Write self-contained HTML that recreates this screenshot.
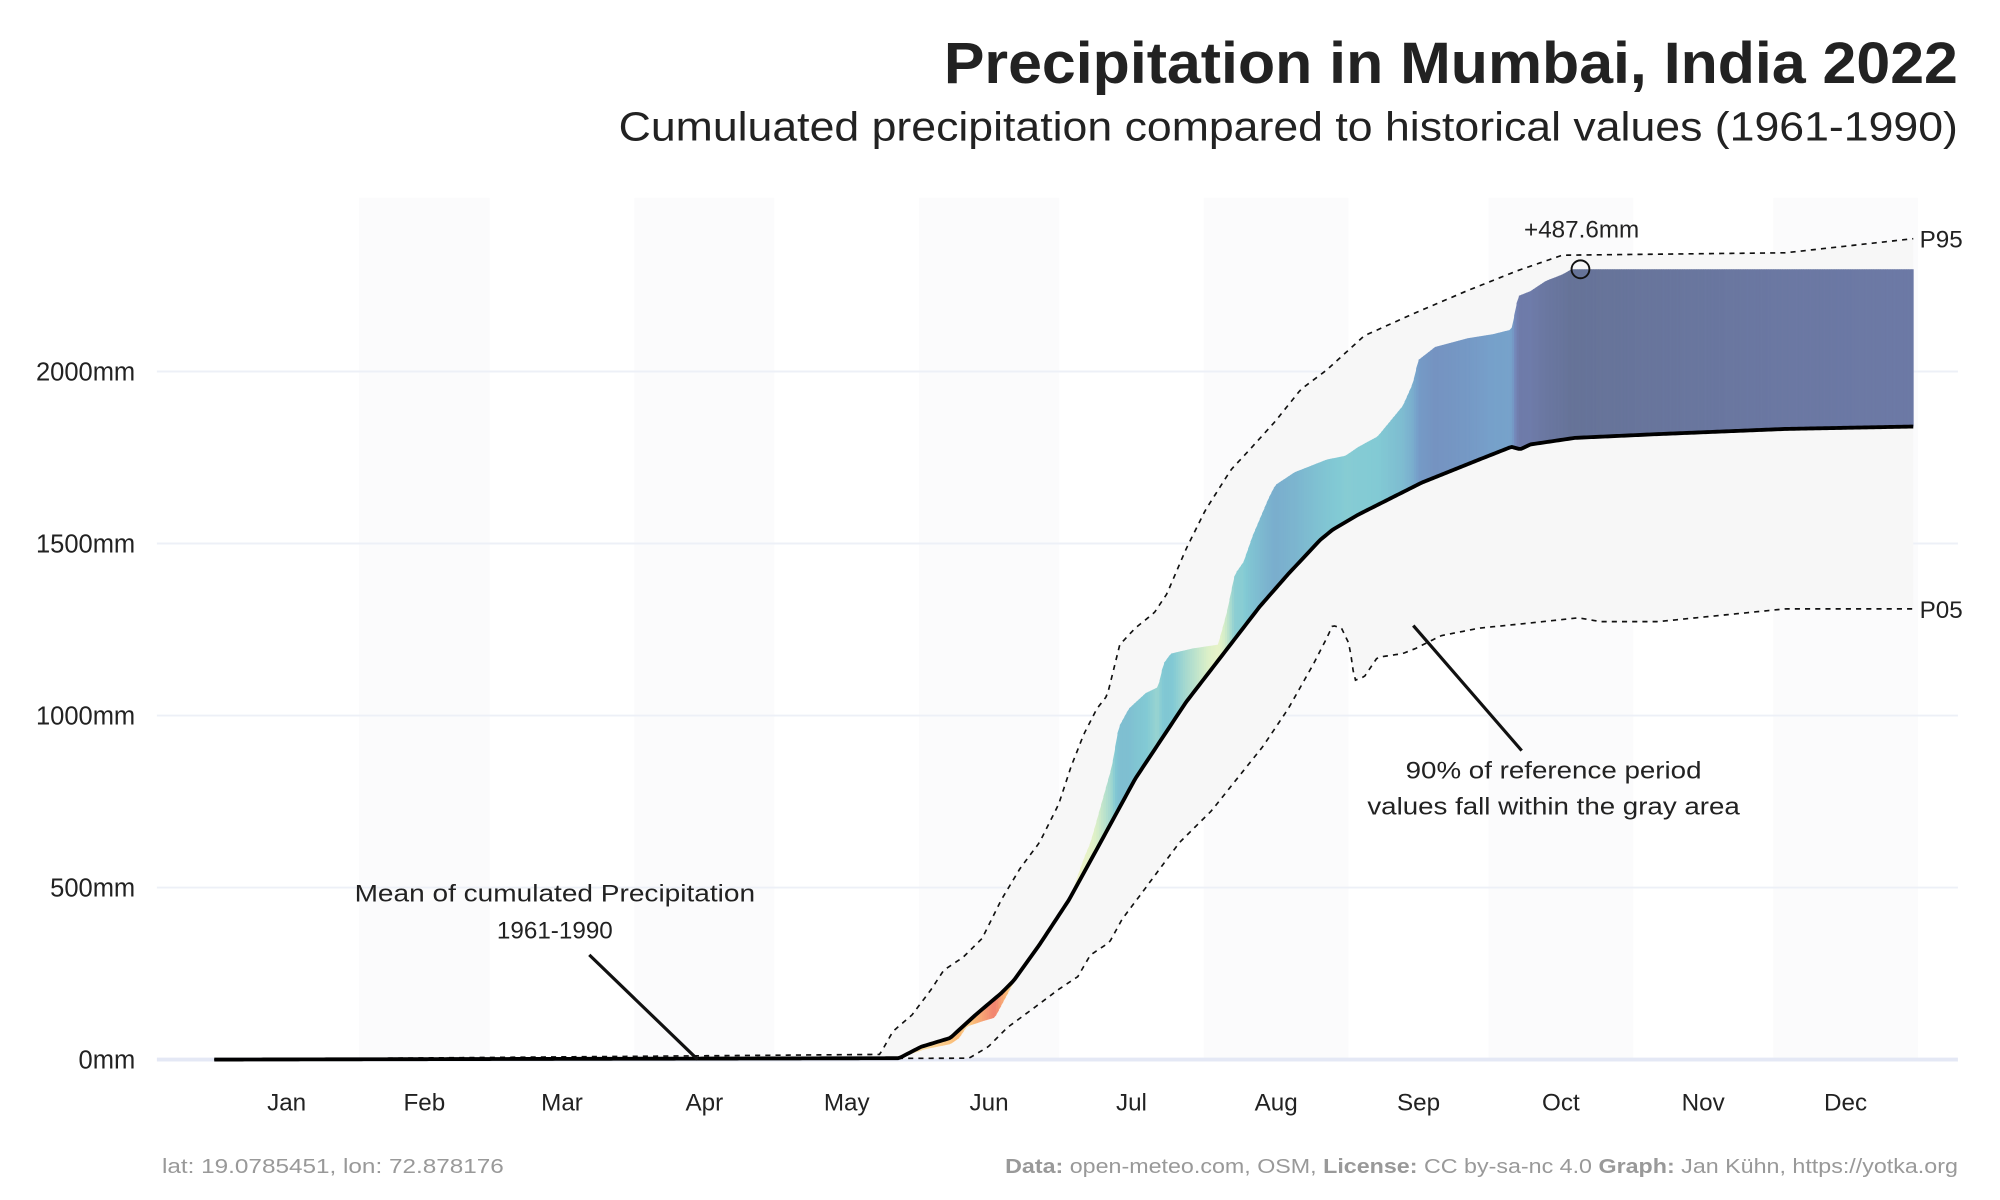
<!DOCTYPE html>
<html><head><meta charset="utf-8">
<style>
html,body{margin:0;padding:0;background:#fff;}
svg{display:block;font-family:"Liberation Sans",sans-serif;}
</style></head>
<body>
<svg id="chart" width="2000" height="1200" viewBox="0 0 1568 940" preserveAspectRatio="none" xmlns="http://www.w3.org/2000/svg">
<text x="1535" y="65" text-anchor="end" font-size="46" font-weight="bold" fill="#222" textLength="795" lengthAdjust="spacingAndGlyphs">Precipitation in Mumbai, India 2022</text>
<text x="1535" y="110" text-anchor="end" font-size="32" fill="#222" textLength="1050" lengthAdjust="spacingAndGlyphs">Cumuluated precipitation compared to historical values (1961-1990)</text>
<g id="bands"></g>
<g id="grid"></g>
<g id="area"></g>
<g id="fills"></g>
<g id="lines"></g>
<g id="axes"></g>
<g id="annot">
<text x="1240" y="186" text-anchor="middle" font-size="19" fill="#222">+487.6mm</text>
<text x="1505" y="194" font-size="19" fill="#222">P95</text>
<text x="1505" y="484" font-size="19" fill="#222">P05</text>
<text font-size="19" fill="#222"><tspan x="435" y="706" text-anchor="middle" textLength="314" lengthAdjust="spacingAndGlyphs">Mean of cumulated Precipitation</tspan><tspan x="435" y="735" text-anchor="middle">1961-1990</tspan></text>
<line x1="462" y1="748" x2="547" y2="830" stroke="#111" stroke-width="2.5"/>
<text font-size="19" fill="#222"><tspan x="1218" y="610" text-anchor="middle" textLength="232" lengthAdjust="spacingAndGlyphs">90% of reference period</tspan><tspan x="1218" y="638" text-anchor="middle" textLength="292" lengthAdjust="spacingAndGlyphs">values fall within the gray area</tspan></text>
<line x1="1108" y1="490" x2="1193" y2="588" stroke="#111" stroke-width="2.5"/>
</g>
<text x="127" y="919" font-size="16" fill="#999" textLength="268" lengthAdjust="spacingAndGlyphs">lat: 19.0785451, lon: 72.878176</text>
<text x="1535" y="919" text-anchor="end" font-size="16" fill="#999" textLength="747" lengthAdjust="spacingAndGlyphs"><tspan font-weight="bold">Data:</tspan> open-meteo.com, OSM, <tspan font-weight="bold">License:</tspan> CC by-sa-nc 4.0  <tspan font-weight="bold">Graph:</tspan> Jan Kühn, https://yotka.org</text>
</svg>
<script>
const months=["Jan","Feb","Mar","Apr","May","Jun","Jul","Aug","Sep","Oct","Nov","Dec"];
const monthStart=[1,32,60,91,121,152,182,213,244,274,305,335,366];
const yTicks=[0,500,1000,1500,2000];
const meanDoy=[1,147.7,152.4,158.7,164.1,169.6,172.3,177.8,184.1,190.1,198.3,209.2,225,231,237.9,240.6,246.1,259.7,272,278.9,280.8,283,292.5,310.3,337.6,365];
const meanVal=[0,4,37,63,130,193,230,334,464,612,816,1039,1317,1410,1510,1540,1584,1677,1744,1781,1774,1788,1807,1818,1833,1840];
const p95Doy=[1,143.6,146.4,150.5,154.6,157.3,161.4,165.5,169.6,173.7,177.8,181.9,184.6,187.3,190.1,192.3,195,198.3,202.4,205.1,209.2,213.3,218.8,222.9,228.3,233.8,239.3,247.4,258.4,269.3,280.2,289.8,310.3,337.6,365];
const p95Val=[0,15,82,130,204,260,297,352,464,557,631,742,853,946,1020,1058,1206,1254,1299,1354,1484,1596,1714,1774,1855,1948,2004,2104,2171,2234,2293,2338,2341,2345,2386];
const p05Doy=[1,162.7,166.8,170.9,176.4,181.9,186,188.7,192.8,195.5,199.6,203.7,207.8,214.7,220.1,225.6,231.1,236.5,239.3,240.6,242.5,244.2,245.3,247.4,250.2,255.6,258.4,263.8,272,283,293.3,298,310.3,337.6,365];
const p05Val=[0,4,37,93,148,204,241,304,341,408,482,557,631,724,816,909,1020,1150,1224,1262,1254,1206,1102,1113,1169,1180,1195,1232,1254,1269,1284,1273,1273,1310,1310];
const actDoy=[1,147.7,153.2,158.7,160.6,162.2,165.5,168.2,170.4,173.7,179.1,184.6,187.3,188.7,191.4,193.3,194.7,196.9,200.5,203.2,204.3,205.9,210.6,216,217.9,219.6,221.5,223.4,226.9,228.3,232.4,239.3,243.3,246.1,250.2,255.6,257.8,258.9,262.5,269.3,274.8,278.9,280.3,283,286.2,289.8,291.7,365];
const actVal=[0,4,30,45,63,96,111,122,178,260,371,482,586,631,761,853,965,1020,1065,1083,1150,1180,1195,1206,1299,1410,1447,1521,1633,1670,1707,1744,1755,1781,1811,1900,1967,2033,2071,2096,2108,2122,2219,2234,2263,2282,2297,2297];
const X0=168,X1=1500,Y0=830,K=0.2695;
function x(d){return X0+(d-1)/364*(X1-X0);}
function y(v){return Y0-v*K;}
function interp(ds,vs,d){if(d<=ds[0])return vs[0];for(let i=1;i<ds.length;i++){if(d<=ds[i]){const t=(d-ds[i-1])/(ds[i]-ds[i-1]);return vs[i-1]+t*(vs[i]-vs[i-1]);}}return vs[vs.length-1];}
const NS="http://www.w3.org/2000/svg";
function mk(t,a,p){const e=document.createElementNS(NS,t);for(const k in a)e.setAttribute(k,a[k]);p.appendChild(e);return e;}
const bands=document.getElementById('bands'),grid=document.getElementById('grid'),area=document.getElementById('area'),fills=document.getElementById('fills'),lines=document.getElementById('lines'),axes=document.getElementById('axes');
for(let m=0;m<12;m++){
  if(m%2==1){const r=mk('rect',{x:x(monthStart[m]),y:155,width:x(monthStart[m+1])-x(monthStart[m]),height:675,fill:'#fbfbfc'},bands);
  
  }
  const t=mk('text',{x:x((monthStart[m]+monthStart[m+1])/2),y:870,'text-anchor':'middle','font-size':19,fill:'#222'},axes);
  
  
  t.textContent=months[m];
}
yTicks.forEach(v=>{
  const l=mk('line',{x1:123,x2:1535,y1:y(v),y2:y(v),stroke:v==0?'#e4e8f5':'#edf0f7','stroke-width':v==0?3:1.5},grid);
  
  
  const t=mk('text',{x:106,y:y(v)+7,'text-anchor':'end','font-size':20,fill:'#222'},axes);
  
  
  t.textContent=v+'mm';
});
let pts=[];
for(let d=1;d<=365;d++)pts.push(x(d)+','+y(interp(p95Doy,p95Val,d)));
for(let d=365;d>=1;d--)pts.push(x(d)+','+y(interp(p05Doy,p05Val,d)));
const ga=mk('polygon',{points:pts.join(' '),fill:'#f7f7f7'},area);


const cStops=[[-150,[200,70,100]],[-60,[240,120,110]],[-20,[250,190,120]],[0,[248,245,200]],[80,[220,240,200]],[200,[130,202,212]],[350,[118,160,202]],[420,[115,128,180]],[490,[102,115,152]]];
function col(d){if(d<=cStops[0][0])return cStops[0][1];for(let i=1;i<cStops.length;i++){if(d<=cStops[i][0]){const t=(d-cStops[i-1][0])/(cStops[i][0]-cStops[i-1][0]);return cStops[i-1][1].map((c,j)=>Math.round(c+t*(cStops[i][1][j]-c)));}}return cStops[cStops.length-1][1];}
const STEP=0.5;
for(let d=1;d<365;d+=STEP){
  const a0=interp(actDoy,actVal,d),a1=interp(actDoy,actVal,d+STEP),m0=interp(meanDoy,meanVal,d),m1=interp(meanDoy,meanVal,d+STEP);
  const c=col(((a0-m0)+(a1-m1))/2);
  const p=mk('polygon',{points:x(d)+','+y(a0)+' '+(x(d+STEP)+0.3)+','+y(a1)+' '+(x(d+STEP)+0.3)+','+y(m1)+' '+x(d)+','+y(m0),fill:'rgb('+c.join(',')+')'},fills);
  
  
}
function path(ds,vs){let s='';for(let d=1;d<=365;d+=0.5)s+=(d==1?'M':'L')+x(d).toFixed(2)+','+y(interp(ds,vs,d)).toFixed(2);return s;}
const p95=mk('path',{d:path(p95Doy,p95Val),fill:'none',stroke:'#111','stroke-width':1.3,'stroke-dasharray':'4,4'},lines);


const p05=mk('path',{d:path(p05Doy,p05Val),fill:'none',stroke:'#111','stroke-width':1.3,'stroke-dasharray':'4,4'},lines);


const mean=mk('path',{d:path(meanDoy,meanVal),fill:'none',stroke:'#000','stroke-width':3,'stroke-linejoin':'round'},lines);


const cx=x(293.7),cy=y(interp(actDoy,actVal,293.7));
const circ=mk('circle',{cx:cx,cy:cy,r:7,fill:'none',stroke:'#111','stroke-width':1.5},lines);


</script>
</body></html>
